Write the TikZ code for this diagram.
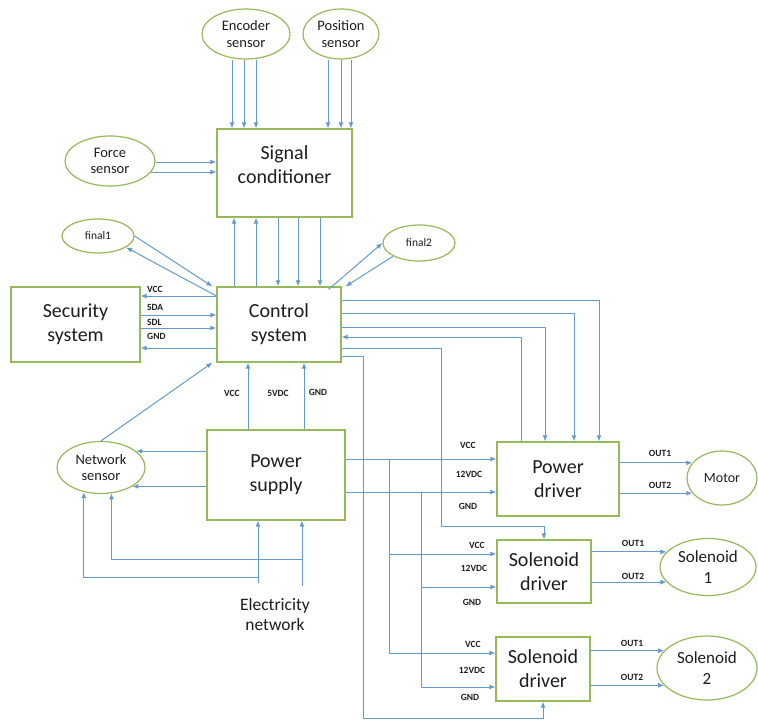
\documentclass[tikz,border=0pt]{standalone}
\usepackage{fontspec}
\setmainfont{Carlito}
\usetikzlibrary{arrows.meta,shapes.geometric,calc}
\definecolor{lnc}{RGB}{100,155,205}
\definecolor{bxc}{RGB}{150,185,90}
\definecolor{txc}{RGB}{30,30,30}
\begin{document}
\begin{tikzpicture}[x=1pt,y=-1pt,
  box/.style={draw=bxc,line width=1.2pt,rectangle,inner sep=0pt,align=center,text=txc,font=\fontsize{20}{24}\selectfont},
  bigtext/.style={inner sep=0pt,align=center,text=txc,font=\fontsize{20}{24}\selectfont},
  oval/.style={draw=bxc,line width=1.2pt,ellipse,inner sep=0pt,align=center,text=txc,font=\fontsize{14.5}{16.5}\selectfont},
  arr/.style={draw=lnc,line width=1pt,-{Latex[length=6pt,width=5pt]}},
  ln/.style={draw=lnc,line width=1pt},
  lab/.style={font=\bfseries\fontsize{9.5}{11}\selectfont,inner sep=0pt,text=txc},
]
\useasboundingbox (0,0) rectangle (758,721);
\fill[white] (0,0) rectangle (758,721);

% boxes
\node[box,minimum width=135pt,minimum height=88pt] (sc) at (284.5,173) {};
\node[bigtext] (sct) at (284.5,165) {Signal\\conditioner};
\node[box,minimum width=124pt,minimum height=75pt] (cs) at (279,324.5) {Control\\system};
\node[box,minimum width=129pt,minimum height=75pt] (sec) at (75.5,324.5) {Security\\system};
\node[box,minimum width=138pt,minimum height=90pt] (ps) at (276,475) {Power\\supply};
\node[box,minimum width=122pt,minimum height=74pt] (pd) at (558,479) {Power\\driver};
\node[box,minimum width=94pt,minimum height=63pt] (sd1) at (544,571.5) {Solenoid\\driver};
\node[box,minimum width=94pt,minimum height=64pt] (sd2) at (543,669) {Solenoid\\driver};

% ellipses
\node[oval,minimum width=88pt,minimum height=50pt] (enc) at (246,34) {Encoder\\sensor};
\node[oval,minimum width=76pt,minimum height=50pt] (pos) at (341,34) {Position\\sensor};
\node[oval,minimum width=90pt,minimum height=50pt] (force) at (110,161) {Force\\sensor};
\node[oval,minimum width=72pt,minimum height=34pt,font=\fontsize{11.5}{13}\selectfont] (fin1) at (98,236) {final1};
\node[oval,minimum width=72pt,minimum height=36pt,font=\fontsize{11.5}{13}\selectfont] (fin2) at (419,243) {final2};
\node[oval,minimum width=88pt,minimum height=52pt] (net) at (101,467.5) {Network\\sensor};
\node[oval,minimum width=70pt,minimum height=54pt,font=\fontsize{14}{16}\selectfont] (motor) at (722,478) {Motor};
\node[oval,minimum width=96pt,minimum height=57pt,font=\fontsize{17}{21}\selectfont] (sol1) at (708,567) {Solenoid\\1};
\node[oval,minimum width=100pt,minimum height=64pt,font=\fontsize{17}{21}\selectfont] (sol2) at (707,668) {Solenoid\\2};

\node[inner sep=0pt,align=center,text=txc,font=\fontsize{17.5}{20}\selectfont] (elec) at (275,614) {Electricity\\network};
\coordinate (e1) at (258,583);
\coordinate (e2) at (302,586);

% sensors -> signal conditioner
\foreach \X in {232,244,256} \draw[arr] (enc.south -| \X,0) -- (sc.north -| \X,0);
\foreach \X in {328,341,351} \draw[arr] (pos.south -| \X,0) -- (sc.north -| \X,0);
\draw[arr] (force.east |- 0,162) -- (sc.west |- 0,162);
\draw[arr] (force.-15) -- (sc.west |- force.-15);

% signal conditioner <-> control
\foreach \X in {234,256} \draw[arr] (cs.north -| \X,0) -- (sc.south -| \X,0);
\foreach \X in {278,298,320} \draw[arr] (sc.south -| \X,0) -- (cs.north -| \X,0);

% final1 / final2
\draw[arr] (fin1.east) -- ([xshift=-4pt]cs.north west);
\draw[arr] (cs.west |- 0,296) -- (fin1.-22);
\draw[arr] ([xshift=-13pt,yshift=-3pt]cs.north east) -- (fin2.west);
\draw[arr] (fin2.207) -- ([xshift=4pt]cs.north east);

% security
\draw[arr] (cs.west |- 0,296) -- (sec.east |- 0,296);
\draw[arr] (sec.east |- 0,315) -- (cs.west |- 0,315);
\draw[arr] (sec.east |- 0,328) -- (cs.west |- 0,328);
\draw[arr] (cs.west |- 0,348) -- (sec.east |- 0,348);
\node[lab,anchor=west] (sl1) at (147,289) {VCC};
\node[lab,anchor=west] (sl2) at (147,307) {SDA};
\node[lab,anchor=west] (sl3) at (147,322) {SDL};
\node[lab,anchor=west] (sl4) at (147,336) {GND};

% network sensor -> control
\draw[arr] (net.north) -- ([xshift=-4pt]cs.south west);

% power supply -> control
\draw[arr] (ps.north -| 248,0) -- (cs.south -| 248,0);
\draw[arr] (ps.north -| 304,0) -- (cs.south -| 304,0);
\node[lab] (pl1) at (232,393) {VCC};
\node[lab] (pl2) at (278,393) {5VDC};
\node[lab] (pl3) at (318,392) {GND};

% control -> drivers
\draw[arr] (cs.east |- 0,300) -| (pd.north -| 599,0);
\draw[arr] (cs.east |- 0,313) -| (pd.north -| 574,0);
\draw[arr] (cs.east |- 0,327) -| (pd.north -| 545,0);
\draw[arr] (pd.north -| 521,0) |- (cs.east |- 0,337);
\draw[arr] (cs.east |- 0,348) -- (441,348) -- (441,526) -| (sd1.north);
\draw[arr] (cs.east |- 0,356) -- (363,356) -- (363,718) -| (sd2.south);

% power supply -> drivers
\draw[arr] (ps.east |- 0,459) -- (pd.west |- 0,459);
\draw[arr] (ps.east |- 0,492) -- (pd.west |- 0,492);
\draw[ln] (389,459) -- (389,653);
\draw[arr] (389,554) -- (sd1.west |- 0,554);
\draw[arr] (389,653) -- (sd2.west |- 0,653);
\draw[ln] (421,492) -- (421,687);
\draw[arr] (421,587) -- (sd1.west |- 0,587);
\draw[arr] (421,687) -- (sd2.west |- 0,687);

\node[lab] (dl1) at (468,445) {VCC};
\node[lab] (dl2) at (469,474) {12VDC};
\node[lab] (dl3) at (468,506) {GND};
\node[lab] (dl4) at (477,545) {VCC};
\node[lab] (dl5) at (474,568) {12VDC};
\node[lab] (dl6) at (472,602) {GND};
\node[lab] (dl7) at (473,644) {VCC};
\node[lab] (dl8) at (472,670) {12VDC};
\node[lab] (dl9) at (470,697) {GND};

% outputs
\draw[arr] (pd.east |- motor.153) -- (motor.153);
\draw[arr] (pd.east |- motor.-153) -- (motor.-153);
\node[lab] (ol1) at (660,453) {OUT1};
\node[lab] (ol2) at (660,485) {OUT2};
\draw[arr] (sd1.east |- sol1.160) -- (sol1.160);
\draw[arr] (sd1.east |- sol1.-160) -- (sol1.-160);
\node[lab] (ol3) at (633,543) {OUT1};
\node[lab] (ol4) at (633,576) {OUT2};
\draw[arr] (sd2.east |- sol2.158) -- (sol2.158);
\draw[arr] (sd2.east |- sol2.-158) -- (sol2.-158);
\node[lab] (ol5) at (632,643) {OUT1};
\node[lab] (ol6) at (632,677) {OUT2};

% power supply -> network sensor
\draw[arr] (ps.west |- net.25) -- (net.25);
\draw[arr] (ps.west |- net.-31) -- (net.-31);

% electricity network
\draw[arr] (e1) -- (e1 |- ps.south);
\draw[arr] (e2) -- (e2 |- ps.south);
\draw[arr] (e1 |- 0,577) -| (net.-125);
\draw[arr] (e2 |- 0,559) -| (net.-68);
\end{tikzpicture}
\end{document}
